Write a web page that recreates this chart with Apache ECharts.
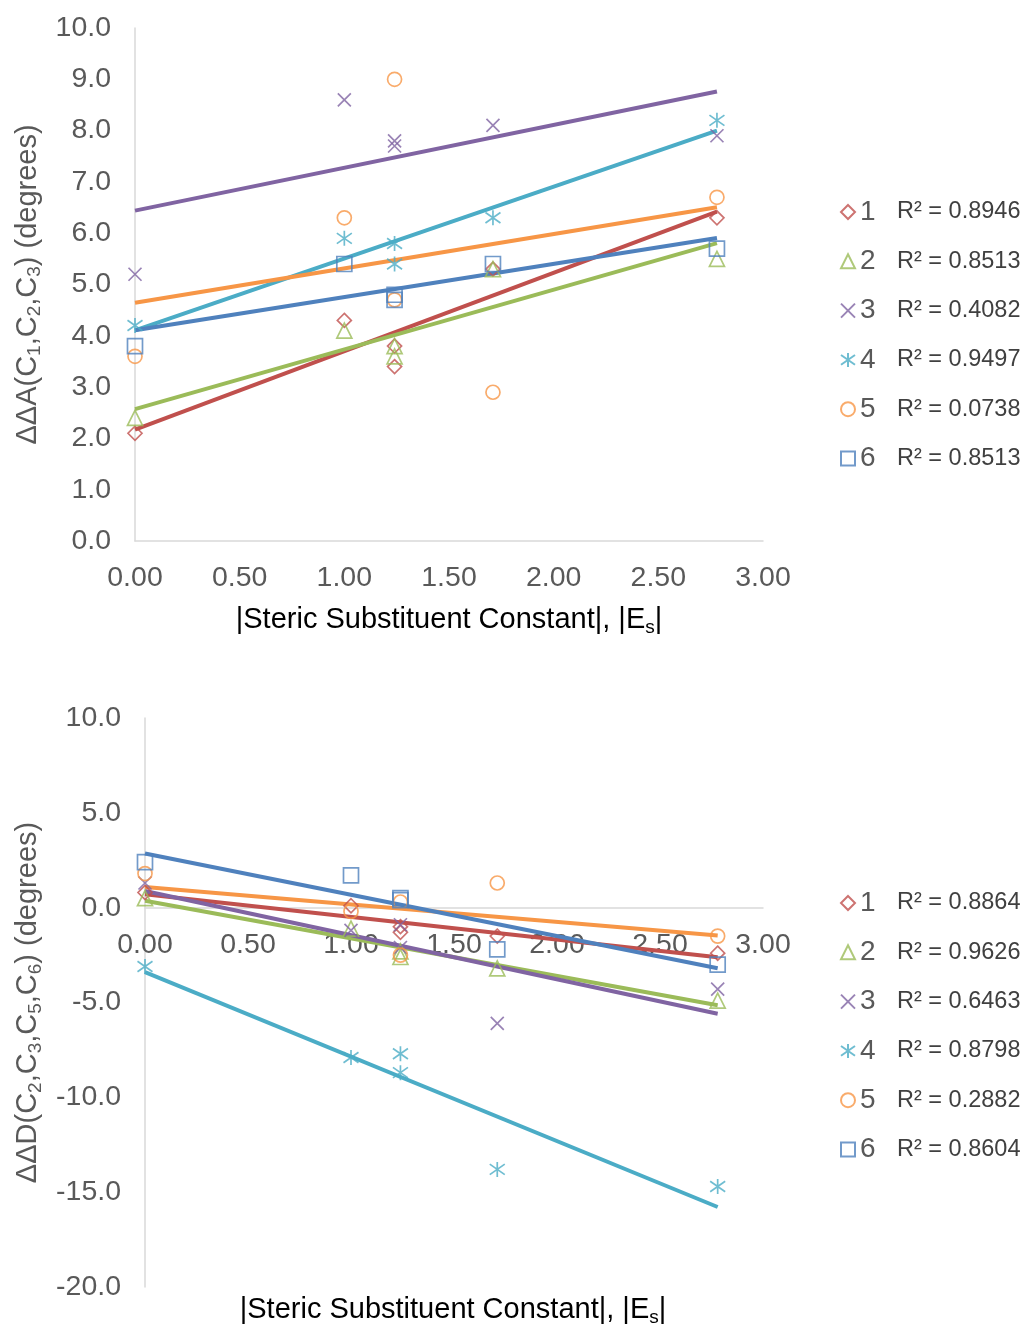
<!DOCTYPE html>
<html>
<head>
<meta charset="utf-8">
<script src="https://cdn.jsdelivr.net/npm/echarts@6/dist/echarts.min.js"></script>
<style>
html,body{margin:0;padding:0;background:#fff;}
#chart{width:1026px;height:1329px;}
</style>
</head>
<body>
<div id="chart"></div>
<script>
// |Es| values (x) shared by both panels
const esX = [0, 1.00, 1.24, 1.24, 1.71, 2.78];

// Panel A: ΔΔA(C1,C2,C3) (degrees)
const dA1 = [2.1, 4.3, 3.8, 3.4, 5.3, 6.3];
const dA2 = [2.4, 4.1, 3.8, 3.6, 5.3, 5.5];
const dA3 = [5.2, 8.6, 7.8, 7.7, 8.1, 7.9];
const dA4 = [4.2, 5.9, 5.8, 5.4, 6.3, 8.2];
const dA5 = [3.6, 6.3, 9.0, 4.7, 2.9, 6.7];
const dA6 = [3.8, 5.4, 4.8, 4.7, 5.4, 5.7];
const r2A = ['0.8946', '0.8513', '0.4082', '0.9497', '0.0738', '0.8513'];

// Panel B: ΔΔD(C2,C3,C5,C6) (degrees)
const dD1 = [0.8, 0.1, -1.0, -1.3, -1.5, -2.4];
const dD2 = [0.5, -1.1, -2.3, -2.6, -3.2, -4.9];
const dD3 = [1.3, -1.2, -0.9, -2.1, -6.1, -4.3];
const dD4 = [-3.1, -7.9, -7.7, -8.7, -13.8, -14.7];
const dD5 = [1.8, -0.2, 0.3, -2.5, 1.3, -1.5];
const dD6 = [2.4, 1.7, 0.5, 0.4, -2.2, -3.0];
const r2D = ['0.8864', '0.9626', '0.6463', '0.8798', '0.2882', '0.8604'];

const seriesLabels = ['1', '2', '3', '4', '5', '6'];
const xTicks = [0, 3, 0.5];
const yTicksA = [0, 10, 1];
const yTicksB = [-20, 10, 5];

const colors = ['#C0504D', '#9BBB59', '#8064A2', '#4BACC6', '#F79646', '#4F81BD'];
const symbols = [
  'path://M5,0 L10,5 L5,10 L0,5 Z',
  'path://M5,0 L10,10 L0,10 Z',
  'path://M0,0 L10,10 M10,0 L0,10',
  'path://M0,1.5 L10,8.5 M10,1.5 L0,8.5 M5,0 L5,10',
  'circle',
  'path://M0,0 L10,0 L10,10 L0,10 Z'
];
const symSizes = [14, 15, 13, 15, 14, 15];

const FONT = '"Liberation Sans", Arial, sans-serif';
const tickColor = '#595959';
const axisColor = '#D9D9D9';

function linfit(xs, ys) {
  const n = xs.length;
  let mx = 0, my = 0;
  for (let i = 0; i < n; i++) { mx += xs[i]; my += ys[i]; }
  mx /= n; my /= n;
  let sxy = 0, sxx = 0;
  for (let i = 0; i < n; i++) { sxy += (xs[i] - mx) * (ys[i] - my); sxx += (xs[i] - mx) * (xs[i] - mx); }
  const b = sxy / sxx, a = my - b * mx;
  const x0 = Math.min.apply(null, xs), x1 = Math.max.apply(null, xs);
  return [[x0, a + b * x0], [x1, a + b * x1]];
}

const setsA = [dA1, dA2, dA3, dA4, dA5, dA6];
const setsB = [dD1, dD2, dD3, dD4, dD5, dD6];

const series = [];
const namesA = [], namesB = [];
function addPanel(sets, gridIdx, prefix, names) {
  sets.forEach(function (ys, i) {
    series.push({
      type: 'line', xAxisIndex: gridIdx, yAxisIndex: gridIdx,
      data: linfit(esX, ys), showSymbol: false, symbol: 'none',
      lineStyle: { color: colors[i], width: 4 }, silent: true, z: 2,
      name: prefix + 'trend' + i
    });
  });
  sets.forEach(function (ys, i) {
    names.push(prefix + i);
    series.push({
      type: 'scatter', name: prefix + i, xAxisIndex: gridIdx, yAxisIndex: gridIdx,
      data: esX.map(function (x, k) { return [x, ys[k]]; }),
      symbol: symbols[i], symbolSize: symSizes[i],
      itemStyle: { color: 'rgba(255,255,255,0)', borderColor: colors[i], borderWidth: 1.7 },
      emphasis: { disabled: true }, z: 3
    });
  });
}
addPanel(setsA, 0, 'A', namesA);
addPanel(setsB, 1, 'B', namesB);

function legendFor(names, r2, top) {
  return {
    orient: 'vertical', left: 835, top: top,
    itemWidth: 14, itemHeight: 14, itemGap: 19.3,
    data: names, selectedMode: false,
    formatter: function (name) {
      const i = +name.slice(1);
      return '{n|' + seriesLabels[i] + '}{r|R² = ' + r2[i] + '}';
    },
    textStyle: {
      rich: {
        n: { fontFamily: FONT, fontSize: 28, color: tickColor, width: 37, lineHeight: 30, height: 30 },
        r: { fontFamily: FONT, fontSize: 23.5, color: '#404040', lineHeight: 30, height: 30 }
      }
    }
  };
}

const nameRich = {
  m: { fontFamily: FONT, fontSize: 29, color: tickColor, lineHeight: 34, verticalAlign: 'middle' },
  s: { fontFamily: FONT, fontSize: 19, color: tickColor, lineHeight: 20, verticalAlign: 'bottom' }
};

function mkX(gridIdx, t, offset) {
  return {
    type: 'value', gridIndex: gridIdx, min: t[0], max: t[1], interval: t[2],
    offset: offset,
    splitLine: { show: false }, axisTick: { show: false },
    axisLine: { show: true, onZero: false, lineStyle: { color: axisColor, width: 1.5 } },
    axisLabel: { color: tickColor, fontSize: 28.5, fontFamily: FONT, margin: 23,
      hideOverlap: false, showMinLabel: true, showMaxLabel: true,
      formatter: function (v) { return v.toFixed(2); } }
  };
}
function mkY(gridIdx, t, name, gap) {
  return {
    type: 'value', gridIndex: gridIdx, min: t[0], max: t[1], interval: t[2],
    splitLine: { show: false }, axisTick: { show: false },
    axisLine: { show: true, onZero: false, lineStyle: { color: axisColor, width: 1.5 } },
    axisLabel: { color: tickColor, fontSize: 28.5, fontFamily: FONT, margin: 24,
      showMinLabel: true, showMaxLabel: true,
      formatter: function (v) { return v.toFixed(1); } },
    name: name, nameLocation: 'middle', nameRotate: 90, nameGap: gap,
    nameTextStyle: { rich: nameRich }
  };
}

// bottom panel: x axis crosses the y axis at 0
const gridB = { left: 145, top: 718, width: 618, height: 569 };
const zeroOffsetB = -gridB.height * (0 - yTicksB[0]) / (yTicksB[1] - yTicksB[0]);

const option = {
  animation: false,
  backgroundColor: '#fff',
  grid: [
    { left: 135, top: 28, width: 628, height: 513 },
    gridB
  ],
  xAxis: [mkX(0, xTicks, 0), mkX(1, xTicks, zeroOffsetB)],
  yAxis: [
    mkY(0, yTicksA, '{m|ΔΔA(C}{s|1}{m|,C}{s|2}{m|,C}{s|3}{m|) (degrees)}', 86),
    mkY(1, yTicksB, '{m|ΔΔD(C}{s|2}{m|,C}{s|3}{m|,C}{s|5}{m|,C}{s|6}{m|) (degrees)}', 96)
  ],
  legend: [legendFor(namesA, r2A, 192), legendFor(namesB, r2D, 883)],
  graphic: [
    { type: 'text', x: 449, y: 620, style: {
      text: '{m||Steric Substituent Constant|, |E}{s|s}{m||}', rich: nameRich,
      align: 'center', verticalAlign: 'middle' } },
    { type: 'text', x: 453, y: 1310, style: {
      text: '{m||Steric Substituent Constant|, |E}{s|s}{m||}', rich: nameRich,
      align: 'center', verticalAlign: 'middle' } }
  ],
  series: series
};

const chart = echarts.init(document.getElementById('chart'), null, { renderer: 'canvas' });
chart.setOption(option);
</script>
</body>
</html>
